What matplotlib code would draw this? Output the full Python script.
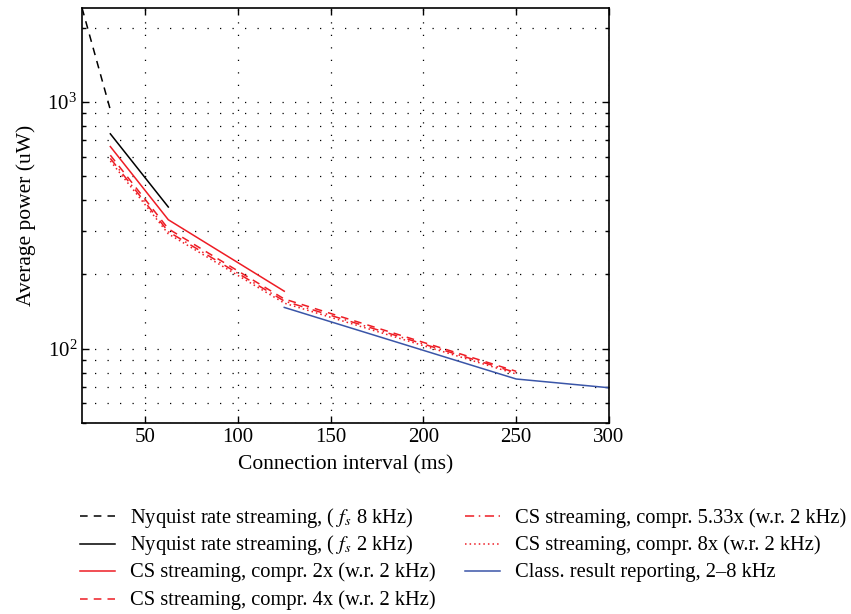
import numpy as np
import matplotlib
matplotlib.use("Agg")
from matplotlib import pyplot as plt
from matplotlib.lines import Line2D
from matplotlib.ticker import LogLocator, LogFormatterMathtext, NullFormatter

plt.rcParams['font.family'] = ['Liberation Serif', 'DejaVu Serif']
plt.rcParams['mathtext.fontset'] = 'stix'

# connection interval (ms) and average power (uW) for each series
nyq8_x = [16, 31.25]
nyq8_y = [2400, 928]
nyq2_x = [31.25, 62.5]
nyq2_y = [742, 375]
cs2_x = [31.25, 62.5, 125]
cs2_y = [659, 333, 171]
cs4_x = [31.25, 62.5, 125, 250]
cs4_y = [608, 306, 159, 81]
cs533_x = [31.25, 62.5, 125, 250]
cs533_y = [590, 298, 156, 80]
cs8_x = [31.25, 62.5, 125, 250]
cs8_y = [576, 292, 153, 79]
cls_x = [125, 250, 300]
cls_y = [147, 75.4, 69.5]

labels = [
    r"Nyquist rate streaming, ( $f_s$ 8 kHz)",
    r"Nyquist rate streaming, ( $f_s$ 2 kHz)",
    "CS streaming, compr. 2x (w.r. 2 kHz)",
    "CS streaming, compr. 4x (w.r. 2 kHz)",
    "CS streaming, compr. 5.33x (w.r. 2 kHz)",
    "CS streaming, compr. 8x (w.r. 2 kHz)",
    "Class. result reporting, 2\u20138 kHz",
]

red = '#ee1c24'
blue = '#3a55a8'
dashed = (0, (5, 4))
dashdot = (0, (6, 3, 1, 3))
dotted = (0, (1, 2))

series = [
    (nyq8_x, nyq8_y, 'k', dashed),
    (nyq2_x, nyq2_y, 'k', '-'),
    (cs2_x, cs2_y, red, '-'),
    (cs4_x, cs4_y, red, dashed),
    (cs533_x, cs533_y, red, dashdot),
    (cs8_x, cs8_y, red, dotted),
    (cls_x, cls_y, blue, '-'),
]

W, H = 851, 614
fig = plt.figure(figsize=(W / 100, H / 100), dpi=100)
ax = fig.add_axes([0.0964, 0.311, 0.6192, 0.676])

lw = 1.1
for xs, ys, c, ls in series:
    ax.plot(xs, ys, color=c, ls=ls, lw=lw)

ax.set_yscale('log')
ax.set_xlim(16, 300)
ax.set_ylim(50, 2400)
ax.set_xticks([50, 100, 150, 200, 250, 300])
ax.yaxis.set_major_locator(LogLocator(base=10))
ax.yaxis.set_major_formatter(LogFormatterMathtext())
ax.yaxis.set_minor_locator(LogLocator(base=10, subs=np.arange(2, 10)))
ax.yaxis.set_minor_formatter(NullFormatter())

ax.grid(True, which='major', color='k', ls=(0, (1, 9)), lw=0.9)
ax.grid(True, which='minor', axis='y', color='k', ls=(0, (1, 9)), lw=0.9)

ax.tick_params(which='both', direction='in', top=True, right=True,
               labelsize=15, width=1.0)
ax.tick_params(which='major', length=5)
ax.tick_params(which='minor', length=3)
for s in ax.spines.values():
    s.set_linewidth(1.2)

ax.set_xlabel("Connection interval (ms)", fontsize=15.5, labelpad=6)
ax.set_ylabel("Average power (uW)", fontsize=15.5, labelpad=8)

# legend below the axes, two columns, rows kept evenly spaced
col_x = [80, 465]
row_y = [516, 543.5, 571, 598.5]
for i, ((xs, ys, c, ls), lab) in enumerate(zip(series, labels)):
    col, row = (0, i) if i < 4 else (1, i - 4)
    x0 = col_x[col]
    y0 = row_y[row]
    fig.add_artist(Line2D([x0 / W, (x0 + 35) / W], [1 - y0 / H, 1 - y0 / H],
                          color=c, ls=ls, lw=lw, transform=fig.transFigure))
    fig.text((x0 + 50) / W, 1 - (y0 + 6.5) / H, lab, fontsize=14.8,
             va='baseline', ha='left')

fig.savefig("out.png", dpi=100)
